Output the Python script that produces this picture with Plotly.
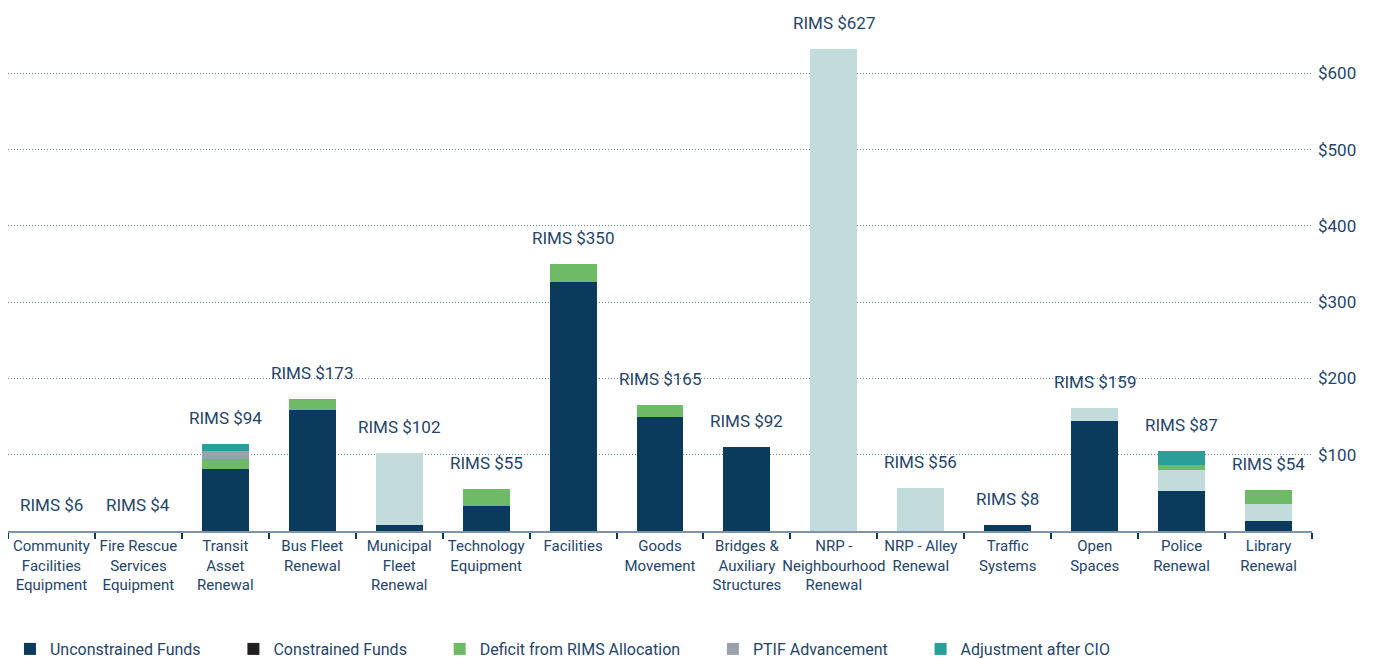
import plotly.graph_objects as go

categories = [
    "Community<br>Facilities<br>Equipment", "Fire Rescue<br>Services<br>Equipment",
    "Transit<br>Asset<br>Renewal", "Bus Fleet<br>Renewal", "Municipal<br>Fleet<br>Renewal",
    "Technology<br>Equipment", "Facilities", "Goods<br>Movement",
    "Bridges &<br>Auxiliary<br>Structures", "NRP -<br>Neighbourhood<br>Renewal",
    "NRP - Alley<br>Renewal", "Traffic<br>Systems", "Open<br>Spaces",
    "Police<br>Renewal", "Library<br>Renewal",
]
rims = [6, 4, 94, 173, 102, 55, 350, 165, 92, 627, 56, 8, 159, 87, 54]

unconstrained = [0, 0, 81, 158, 8, 33, 326, 149, 110, 0, 0, 8, 144, 53, 13]
constrained = [0, 0, 0, 0, 0, 0, 0, 0, 0, 0, 0, 0, 0, 0, 0]
remaining = [0, 0, 0, 0, 94, 0, 0, 0, 0, 632, 56, 0, 17, 27, 22]
deficit = [0, 0, 13, 15, 0, 22, 24, 16, 0, 0, 0, 0, 0, 7, 19]
ptif = [0, 0, 11, 0, 0, 0, 0, 0, 0, 0, 0, 0, 0, 0, 0]
adjustment = [0, 0, 9, 0, 0, 0, 0, 0, 0, 0, 0, 0, 0, 18, 0]

y_ticks = [100, 200, 300, 400, 500, 600]

FONT = "Roboto, sans-serif"
TXT = "#24456b"
PAD = "\u00a0" * 7

series = [
    ("Unconstrained Funds" + PAD, unconstrained, "#0a3a5c", True),
    ("Constrained Funds" + PAD, constrained, "#231f20", True),
    ("Remaining", remaining, "#c2dcdc", False),
    ("Deficit from RIMS Allocation" + PAD, deficit, "#6fba66", True),
    ("PTIF Advancement" + PAD, ptif, "#98a2ac", True),
    ("Adjustment after CIO", adjustment, "#2a9f99", True),
]

fig = go.Figure()
for name, vals, color, show in series:
    fig.add_trace(go.Bar(x=categories, y=vals, name=name, marker_color=color,
                         marker_line_width=0, showlegend=show))

totals = [sum(s[1][i] for s in series) for i in range(len(categories))]
for c, r, t in zip(categories, rims, totals):
    fig.add_annotation(x=c, y=t, text=f"RIMS ${r}", showarrow=False, yshift=26,
                       yanchor="middle", font=dict(family=FONT, size=17, color=TXT))

fig.update_layout(
    barmode="stack", bargap=0.46,
    width=1365, height=651,
    margin=dict(l=0, r=61, t=2, b=128, autoexpand=False),
    plot_bgcolor="white", paper_bgcolor="white",
    font=dict(family=FONT, size=17, color=TXT),
    legend=dict(orientation="h", x=0.0015, xanchor="left", y=-0.2265, yanchor="middle",
                font=dict(family=FONT, size=16, color=TXT), itemwidth=30,
                traceorder="normal"),
    xaxis=dict(showline=True, linecolor="#7f93a8", linewidth=2, ticks="outside",
               tickson="boundaries", ticklen=6, tickwidth=2, tickcolor="#0a3a5c",
               showgrid=False, tickangle=0, automargin=False,
               tickfont=dict(family=FONT, size=15, color=TXT)),
    yaxis=dict(side="right", range=[0, 683], tickvals=y_ticks, automargin=False,
               ticktext=[f"${v}" for v in y_ticks], showgrid=True, ticklabelstandoff=5,
               gridcolor="#6f84a0", griddash="1px,2px", gridwidth=1, zeroline=False,
               showline=False, ticks="", tickfont=dict(family=FONT, size=17, color=TXT)),
)

fig.write_html("out.html")
